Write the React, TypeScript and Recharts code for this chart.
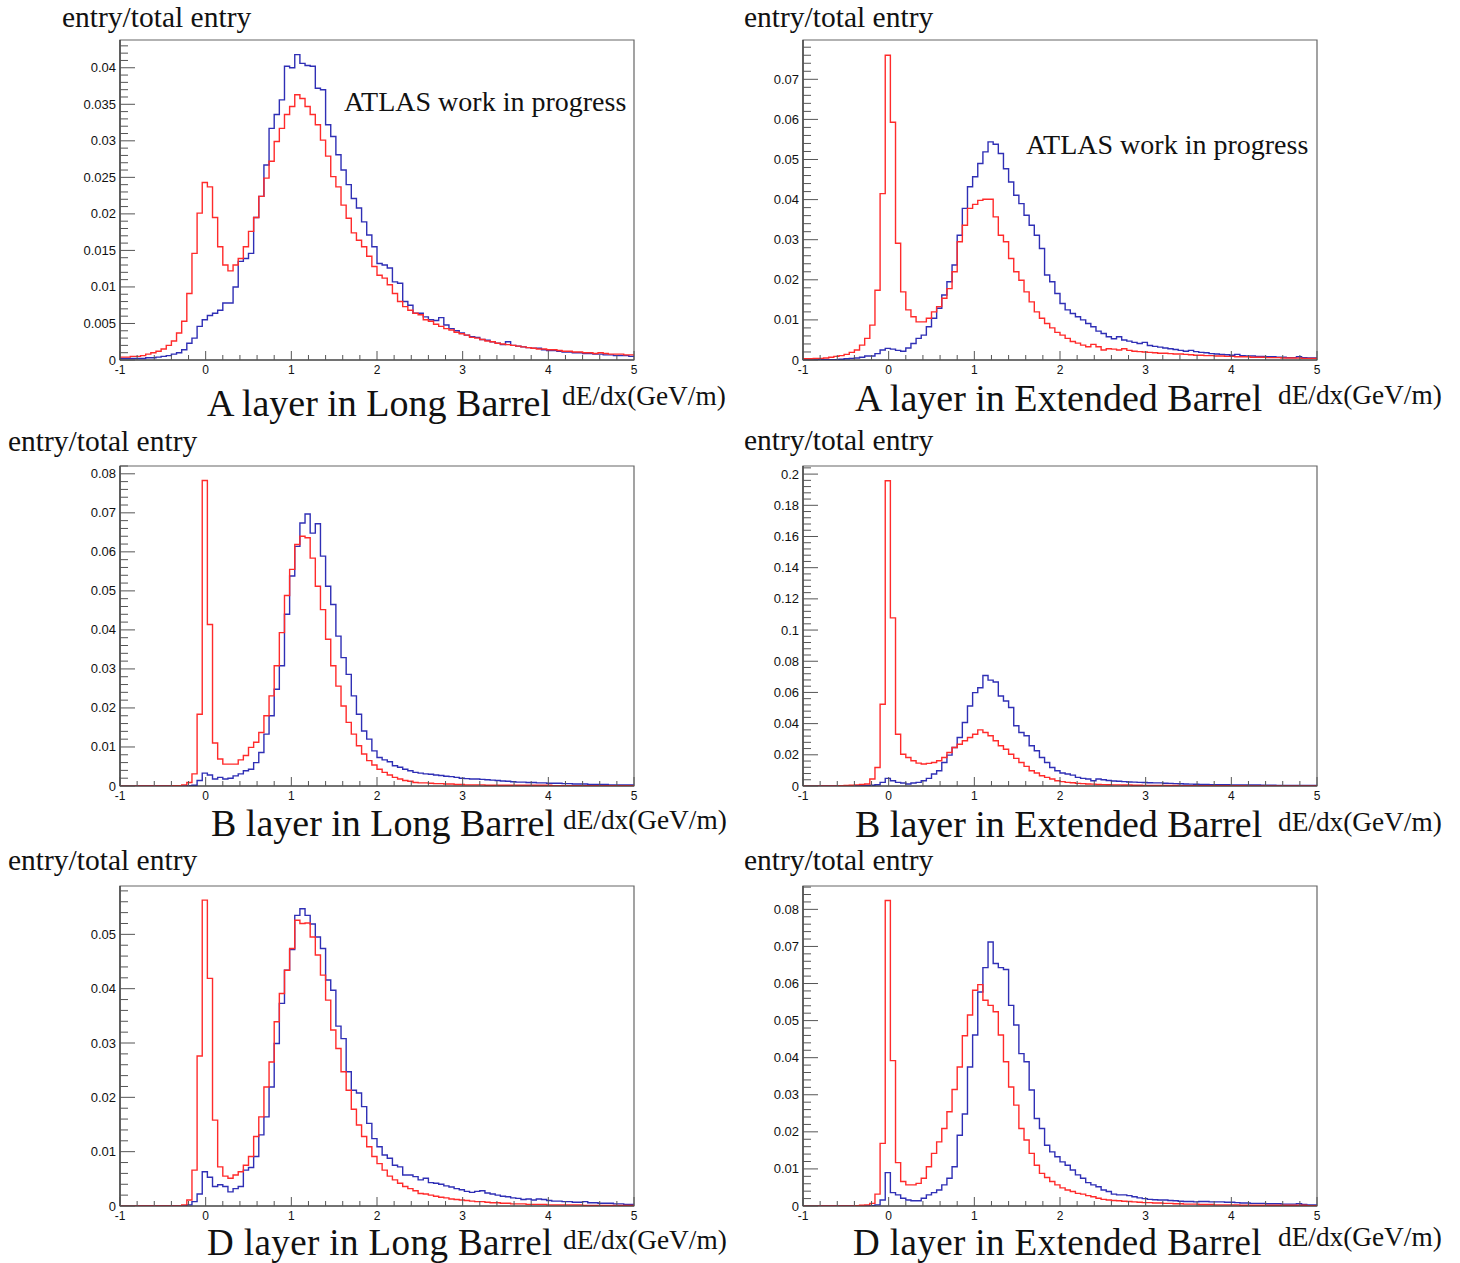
import React from 'react';
import { LineChart, Line, XAxis, YAxis, ReferenceArea } from 'recharts';

// histogram binning: 100 bins from -1 to 5 (width 0.06)
const BIN_LO = -1;
const BIN_HI = 5;
const BIN_W = 0.06;

const X_MAJOR = [-1, 0, 1, 2, 3, 4, 5];
const X_MINOR_STEP = 0.2;

// A layer, Long Barrel
const aLongRed = [
  0.0004, 0.0004, 0.0005, 0.0005, 0.0006, 0.0008, 0.0010, 0.0012, 0.0015, 0.0020, 0.0026, 0.0037,
  0.0053, 0.0091, 0.0146, 0.0201, 0.0243, 0.0237, 0.0195, 0.0155, 0.0130, 0.0122, 0.0130, 0.0139,
  0.0155, 0.0176, 0.0195, 0.0224, 0.0249, 0.0272, 0.0299, 0.0317, 0.0336, 0.0347, 0.0363, 0.0358,
  0.0347, 0.0336, 0.0322, 0.0301, 0.0279, 0.0251, 0.0237, 0.0212, 0.0194, 0.0174, 0.0164, 0.0155,
  0.0142, 0.0128, 0.0116, 0.0112, 0.0103, 0.0091, 0.0080, 0.0073, 0.0068, 0.0064, 0.0062, 0.0055,
  0.0053, 0.0049, 0.0046, 0.0043, 0.0041, 0.0038, 0.0036, 0.0034, 0.0031, 0.0030, 0.0028, 0.0026,
  0.0025, 0.0023, 0.0022, 0.0021, 0.0020, 0.0019, 0.0018, 0.0017, 0.0016, 0.0015, 0.0015, 0.0014,
  0.0014, 0.0013, 0.0012, 0.0012, 0.0011, 0.0011, 0.0010, 0.0010, 0.0009, 0.0010, 0.0009, 0.0008,
  0.0008, 0.0008, 0.0007, 0.0007,
];
const aLongBlue = [
  0.0002, 0.0002, 0.0002, 0.0002, 0.0002, 0.0003, 0.0003, 0.0004, 0.0005, 0.0006, 0.0008, 0.0010,
  0.0014, 0.0023, 0.0030, 0.0046, 0.0055, 0.0061, 0.0064, 0.0068, 0.0078, 0.0078, 0.0100, 0.0135,
  0.0139, 0.0146, 0.0195, 0.0224, 0.0267, 0.0317, 0.0336, 0.0356, 0.0402, 0.0400, 0.0418, 0.0406,
  0.0403, 0.0402, 0.0372, 0.0370, 0.0322, 0.0306, 0.0281, 0.0260, 0.0240, 0.0221, 0.0208, 0.0189,
  0.0171, 0.0155, 0.0132, 0.0130, 0.0126, 0.0107, 0.0105, 0.0080, 0.0075, 0.0064, 0.0064, 0.0059,
  0.0055, 0.0054, 0.0058, 0.0048, 0.0043, 0.0040, 0.0037, 0.0034, 0.0032, 0.0031, 0.0028, 0.0027,
  0.0025, 0.0023, 0.0021, 0.0025, 0.0020, 0.0019, 0.0018, 0.0017, 0.0016, 0.0016, 0.0014, 0.0013,
  0.0013, 0.0012, 0.0011, 0.0011, 0.0010, 0.0010, 0.0009, 0.0009, 0.0008, 0.0008, 0.0007, 0.0007,
  0.0006, 0.0006, 0.0006, 0.0005,
];
const aLongYTicks = [0, 0.005, 0.01, 0.015, 0.02, 0.025, 0.03, 0.035, 0.04];

// A layer, Extended Barrel
const aExtRed = [
  0.0003, 0.0003, 0.0004, 0.0004, 0.0005, 0.0007, 0.0009, 0.0011, 0.0014, 0.0019, 0.0025, 0.0037,
  0.0054, 0.0087, 0.0174, 0.0415, 0.0760, 0.0593, 0.0291, 0.0170, 0.0125, 0.0108, 0.0095, 0.0095,
  0.0104, 0.0120, 0.0133, 0.0154, 0.0178, 0.0220, 0.0295, 0.0336, 0.0378, 0.0388, 0.0398, 0.0401,
  0.0401, 0.0357, 0.0311, 0.0295, 0.0253, 0.0220, 0.0199, 0.0170, 0.0145, 0.0120, 0.0104, 0.0091,
  0.0080, 0.0069, 0.0062, 0.0054, 0.0046, 0.0042, 0.0037, 0.0033, 0.0039, 0.0033, 0.0025, 0.0028,
  0.0027, 0.0025, 0.0028, 0.0024, 0.0022, 0.0021, 0.0020, 0.0019, 0.0018, 0.0017, 0.0017, 0.0016,
  0.0015, 0.0015, 0.0014, 0.0013, 0.0012, 0.0012, 0.0011, 0.0011, 0.0010, 0.0010, 0.0009, 0.0009,
  0.0008, 0.0008, 0.0008, 0.0007, 0.0007, 0.0007, 0.0006, 0.0006, 0.0006, 0.0005, 0.0005, 0.0005,
  0.0005, 0.0004, 0.0004, 0.0004,
];
const aExtBlue = [
  0.0001, 0.0001, 0.0001, 0.0001, 0.0001, 0.0001, 0.0001, 0.0002, 0.0003, 0.0004, 0.0005, 0.0007,
  0.0010, 0.0010, 0.0016, 0.0025, 0.0029, 0.0027, 0.0024, 0.0022, 0.0030, 0.0041, 0.0054, 0.0062,
  0.0083, 0.0104, 0.0129, 0.0162, 0.0195, 0.0237, 0.0311, 0.0378, 0.0432, 0.0457, 0.0490, 0.0519,
  0.0544, 0.0538, 0.0515, 0.0477, 0.0444, 0.0411, 0.0390, 0.0361, 0.0336, 0.0311, 0.0278, 0.0212,
  0.0195, 0.0166, 0.0141, 0.0125, 0.0116, 0.0108, 0.0100, 0.0091, 0.0083, 0.0072, 0.0066, 0.0058,
  0.0053, 0.0058, 0.0050, 0.0047, 0.0044, 0.0041, 0.0044, 0.0036, 0.0034, 0.0032, 0.0030, 0.0028,
  0.0026, 0.0024, 0.0022, 0.0024, 0.0021, 0.0019, 0.0018, 0.0016, 0.0015, 0.0014, 0.0013, 0.0012,
  0.0014, 0.0011, 0.0010, 0.0010, 0.0009, 0.0009, 0.0008, 0.0008, 0.0007, 0.0007, 0.0006, 0.0006,
  0.0008, 0.0006, 0.0005, 0.0005,
];
const aExtYTicks = [0, 0.01, 0.02, 0.03, 0.04, 0.05, 0.06, 0.07];

// B layer, Long Barrel
const bLongRed = [
  0, 0, 0, 0, 0, 0, 0, 0, 0, 0, 0.0001, 0.0001,
  0.0003, 0.0009, 0.0031, 0.0184, 0.0783, 0.0414, 0.0110, 0.0069, 0.0056, 0.0056, 0.0056, 0.0067,
  0.0078, 0.0099, 0.0112, 0.0137, 0.0180, 0.0231, 0.0308, 0.0393, 0.0488, 0.0555, 0.0619, 0.0640,
  0.0636, 0.0584, 0.0512, 0.0452, 0.0376, 0.0308, 0.0256, 0.0205, 0.0163, 0.0133, 0.0103, 0.0082,
  0.0065, 0.0054, 0.0043, 0.0035, 0.0028, 0.0022, 0.0018, 0.0014, 0.0012, 0.0009, 0.0008, 0.0008,
  0.0007, 0.0006, 0.0006, 0.0005, 0.0005, 0.0004, 0.0004, 0.0003, 0.0003, 0.0003, 0.0003, 0.0002,
  0.0002, 0.0002, 0.0002, 0.0002, 0.0002, 0.0002, 0.0002, 0.0002, 0.0002, 0.0002, 0.0002, 0.0002,
  0.0001, 0.0001, 0.0001, 0.0001, 0.0001, 0.0001, 0.0001, 0.0001, 0.0001, 0.0001, 0.0001, 0.0001,
  0.0001, 0.0001, 0.0001, 0.0001,
];
const bLongBlue = [
  0, 0, 0, 0, 0, 0, 0, 0, 0, 0, 0, 0,
  0, 0.0001, 0.0002, 0.0014, 0.0033, 0.0028, 0.0018, 0.0022, 0.0018, 0.0020, 0.0026, 0.0031,
  0.0039, 0.0043, 0.0060, 0.0086, 0.0133, 0.0180, 0.0248, 0.0308, 0.0440, 0.0538, 0.0614, 0.0674,
  0.0697, 0.0648, 0.0672, 0.0589, 0.0512, 0.0465, 0.0384, 0.0329, 0.0286, 0.0231, 0.0184, 0.0141,
  0.0120, 0.0090, 0.0073, 0.0067, 0.0062, 0.0052, 0.0048, 0.0043, 0.0039, 0.0035, 0.0033, 0.0031,
  0.0030, 0.0028, 0.0027, 0.0025, 0.0024, 0.0022, 0.0020, 0.0019, 0.0018, 0.0018, 0.0017, 0.0016,
  0.0015, 0.0014, 0.0013, 0.0012, 0.0011, 0.0010, 0.0010, 0.0009, 0.0009, 0.0008, 0.0008, 0.0007,
  0.0007, 0.0007, 0.0006, 0.0006, 0.0005, 0.0005, 0.0005, 0.0004, 0.0004, 0.0004, 0.0004, 0.0003,
  0.0003, 0.0003, 0.0003, 0.0003,
];
const bLongYTicks = [0, 0.01, 0.02, 0.03, 0.04, 0.05, 0.06, 0.07, 0.08];

// B layer, Extended Barrel
const bExtRed = [
  0, 0, 0, 0, 0, 0, 0.0001, 0.0002, 0.0003, 0.0005, 0.0007, 0.0010,
  0.0013, 0.0045, 0.0119, 0.0524, 0.1957, 0.1078, 0.0332, 0.0204, 0.0183, 0.0162, 0.0147, 0.0141,
  0.0145, 0.0151, 0.0162, 0.0183, 0.0215, 0.0247, 0.0268, 0.0290, 0.0311, 0.0332, 0.0360, 0.0343,
  0.0322, 0.0290, 0.0258, 0.0236, 0.0204, 0.0177, 0.0151, 0.0126, 0.0098, 0.0083, 0.0066, 0.0055,
  0.0045, 0.0034, 0.0028, 0.0023, 0.0021, 0.0017, 0.0015, 0.0013, 0.0012, 0.0010, 0.0009, 0.0008,
  0.0007, 0.0007, 0.0006, 0.0006, 0.0005, 0.0005, 0.0004, 0.0004, 0.0004, 0.0003, 0.0003, 0.0003,
  0.0003, 0.0002, 0.0002, 0.0002, 0.0002, 0.0002, 0.0002, 0.0002, 0.0002, 0.0002, 0.0002, 0.0002,
  0.0002, 0.0002, 0.0001, 0.0001, 0.0001, 0.0001, 0.0001, 0.0001, 0.0001, 0.0001, 0.0001, 0.0001,
  0.0001, 0.0001, 0.0001, 0.0001,
];
const bExtBlue = [
  0, 0, 0, 0, 0, 0, 0, 0.0001, 0.0001, 0.0002, 0.0002, 0.0003,
  0.0004, 0.0005, 0.0008, 0.0023, 0.0049, 0.0034, 0.0023, 0.0019, 0.0013, 0.0019, 0.0023, 0.0034,
  0.0049, 0.0077, 0.0098, 0.0151, 0.0198, 0.0247, 0.0311, 0.0407, 0.0513, 0.0599, 0.0630, 0.0709,
  0.0679, 0.0667, 0.0577, 0.0545, 0.0503, 0.0386, 0.0343, 0.0322, 0.0258, 0.0226, 0.0183, 0.0151,
  0.0119, 0.0098, 0.0083, 0.0077, 0.0070, 0.0055, 0.0049, 0.0045, 0.0034, 0.0045, 0.0040, 0.0035,
  0.0032, 0.0030, 0.0028, 0.0026, 0.0025, 0.0023, 0.0022, 0.0021, 0.0020, 0.0020, 0.0018, 0.0017,
  0.0015, 0.0014, 0.0013, 0.0012, 0.0011, 0.0010, 0.0010, 0.0009, 0.0009, 0.0008, 0.0008, 0.0007,
  0.0007, 0.0007, 0.0006, 0.0006, 0.0006, 0.0005, 0.0005, 0.0005, 0.0004, 0.0004, 0.0004, 0.0004,
  0.0003, 0.0003, 0.0003, 0.0003,
];
const bExtYTicks = [0, 0.02, 0.04, 0.06, 0.08, 0.1, 0.12, 0.14, 0.16, 0.18, 0.2];

// D layer, Long Barrel
const dLongRed = [
  0, 0, 0, 0, 0, 0, 0, 0, 0, 0, 0, 0,
  0.0002, 0.0011, 0.0066, 0.0276, 0.0563, 0.0419, 0.0158, 0.0072, 0.0055, 0.0051, 0.0057, 0.0063,
  0.0075, 0.0091, 0.0128, 0.0164, 0.0219, 0.0265, 0.0339, 0.0391, 0.0434, 0.0474, 0.0526, 0.0520,
  0.0521, 0.0495, 0.0462, 0.0425, 0.0379, 0.0324, 0.0290, 0.0247, 0.0213, 0.0178, 0.0149, 0.0128,
  0.0109, 0.0091, 0.0078, 0.0066, 0.0055, 0.0048, 0.0042, 0.0036, 0.0032, 0.0028, 0.0023, 0.0022,
  0.0020, 0.0018, 0.0016, 0.0015, 0.0013, 0.0012, 0.0011, 0.0010, 0.0009, 0.0008, 0.0008, 0.0007,
  0.0006, 0.0006, 0.0005, 0.0005, 0.0004, 0.0004, 0.0004, 0.0003, 0.0003, 0.0003, 0.0003, 0.0002,
  0.0002, 0.0002, 0.0002, 0.0002, 0.0002, 0.0002, 0.0001, 0.0001, 0.0001, 0.0001, 0.0001, 0.0001,
  0.0001, 0.0001, 0.0001, 0.0001,
];
const dLongBlue = [
  0, 0, 0, 0, 0, 0, 0, 0, 0, 0, 0, 0,
  0, 0.0002, 0.0008, 0.0022, 0.0063, 0.0053, 0.0036, 0.0039, 0.0036, 0.0026, 0.0032, 0.0036,
  0.0066, 0.0071, 0.0091, 0.0131, 0.0164, 0.0219, 0.0299, 0.0373, 0.0434, 0.0472, 0.0535, 0.0547,
  0.0535, 0.0519, 0.0495, 0.0474, 0.0416, 0.0397, 0.0331, 0.0308, 0.0247, 0.0213, 0.0208, 0.0183,
  0.0152, 0.0124, 0.0109, 0.0094, 0.0088, 0.0075, 0.0072, 0.0057, 0.0057, 0.0054, 0.0048, 0.0051,
  0.0043, 0.0042, 0.0040, 0.0037, 0.0035, 0.0032, 0.0030, 0.0027, 0.0025, 0.0027, 0.0028, 0.0024,
  0.0022, 0.0020, 0.0018, 0.0017, 0.0015, 0.0014, 0.0012, 0.0013, 0.0011, 0.0013, 0.0012, 0.0010,
  0.0009, 0.0009, 0.0008, 0.0008, 0.0007, 0.0007, 0.0008, 0.0006, 0.0006, 0.0005, 0.0005, 0.0005,
  0.0004, 0.0004, 0.0003, 0.0003,
];
const dLongYTicks = [0, 0.01, 0.02, 0.03, 0.04, 0.05];

// D layer, Extended Barrel
const dExtRed = [
  0, 0, 0, 0, 0, 0, 0, 0, 0, 0, 0.0001, 0.0002,
  0.0003, 0.0007, 0.0032, 0.0169, 0.0824, 0.0392, 0.0117, 0.0066, 0.0057, 0.0057, 0.0061, 0.0075,
  0.0106, 0.0142, 0.0173, 0.0209, 0.0254, 0.0314, 0.0375, 0.0459, 0.0515, 0.0582, 0.0597, 0.0555,
  0.0541, 0.0524, 0.0461, 0.0389, 0.0321, 0.0272, 0.0209, 0.0178, 0.0142, 0.0110, 0.0088, 0.0077,
  0.0066, 0.0057, 0.0049, 0.0043, 0.0039, 0.0034, 0.0032, 0.0028, 0.0025, 0.0021, 0.0018, 0.0016,
  0.0015, 0.0014, 0.0013, 0.0012, 0.0011, 0.0010, 0.0009, 0.0009, 0.0008, 0.0008, 0.0007, 0.0007,
  0.0006, 0.0006, 0.0005, 0.0005, 0.0005, 0.0004, 0.0004, 0.0004, 0.0003, 0.0003, 0.0003, 0.0003,
  0.0003, 0.0002, 0.0002, 0.0002, 0.0002, 0.0002, 0.0002, 0.0002, 0.0002, 0.0002, 0.0002, 0.0002,
  0.0002, 0.0002, 0.0001, 0.0001,
];
const dExtBlue = [
  0, 0, 0, 0, 0, 0, 0, 0, 0, 0, 0, 0,
  0, 0.0001, 0.0003, 0.0016, 0.0090, 0.0036, 0.0030, 0.0021, 0.0016, 0.0014, 0.0014, 0.0021,
  0.0030, 0.0036, 0.0043, 0.0057, 0.0075, 0.0106, 0.0191, 0.0248, 0.0375, 0.0461, 0.0577, 0.0643,
  0.0712, 0.0654, 0.0643, 0.0638, 0.0541, 0.0488, 0.0411, 0.0389, 0.0313, 0.0236, 0.0209, 0.0164,
  0.0146, 0.0133, 0.0119, 0.0110, 0.0097, 0.0084, 0.0075, 0.0063, 0.0057, 0.0052, 0.0043, 0.0039,
  0.0032, 0.0030, 0.0030, 0.0028, 0.0025, 0.0022, 0.0020, 0.0018, 0.0017, 0.0016, 0.0016, 0.0015,
  0.0014, 0.0013, 0.0012, 0.0012, 0.0011, 0.0012, 0.0012, 0.0011, 0.0011, 0.0011, 0.0010, 0.0010,
  0.0009, 0.0008, 0.0008, 0.0007, 0.0007, 0.0007, 0.0006, 0.0006, 0.0006, 0.0005, 0.0005, 0.0005,
  0.0006, 0.0004, 0.0003, 0.0003,
];
const dExtYTicks = [0, 0.01, 0.02, 0.03, 0.04, 0.05, 0.06, 0.07, 0.08];

const TITLES = [
  'A layer in Long Barrel', 'A layer in Extended Barrel',
  'B layer in Long Barrel', 'B layer in Extended Barrel',
  'D layer in Long Barrel', 'D layer in Extended Barrel',
];
const Y_TITLE = 'entry/total entry';
const X_TITLE = 'dE/dx(GeV/m)';
const WATERMARK = 'ATLAS work in progress';

const RED = '#ff2b2b';
const BLUE = '#2f2fb5';
const FRAME_W = 514;
const FRAME_H = 320;
const PAD_L = 70;
const PAD_T = 10;
const PAD_R = 12;
const PAD_B = 30;
const SERIF = '"Liberation Serif", "Times New Roman", serif';
const SANS = '"Liberation Sans", Arial, sans-serif';

// layout of each pad on the page (frame corner + text anchors)
const PANELS = [
  { red: aLongRed, blue: aLongBlue, yMajor: aLongYTicks, yMax: 0.0438, yMinor: 0.001,
    left: 120, top: 40, title: [207, 416, 38, 0], unit: [562, 405], ylab: [62, 27], atlas: [344, 111] },
  { red: aExtRed, blue: aExtBlue, yMajor: aExtYTicks, yMax: 0.0798, yMinor: 0.002,
    left: 803, top: 40, title: [855, 411, 38, 0], unit: [1278, 404], ylab: [744, 27], atlas: [1026, 154] },
  { red: bLongRed, blue: bLongBlue, yMajor: bLongYTicks, yMax: 0.0820, yMinor: 0.002,
    left: 120, top: 466, title: [211, 836, 38, 0], unit: [563, 829], ylab: [8, 451] },
  { red: bExtRed, blue: bExtBlue, yMajor: bExtYTicks, yMax: 0.2052, yMinor: 0.004,
    left: 803, top: 466, title: [855, 837, 38, 0], unit: [1278, 831], ylab: [744, 450] },
  { red: dLongRed, blue: dLongBlue, yMajor: dLongYTicks, yMax: 0.0589, yMinor: 0.002,
    left: 120, top: 886, title: [207, 1255, 37, 0.4], unit: [563, 1249], ylab: [8, 870] },
  { red: dExtRed, blue: dExtBlue, yMajor: dExtYTicks, yMax: 0.0863, yMinor: 0.002,
    left: 803, top: 886, title: [853, 1255, 37, 0.4], unit: [1278, 1246], ylab: [744, 870] },
];

function histRows(red: number[], blue: number[]) {
  const rows = red.map((r, i) => ({ x: +(BIN_LO + i * BIN_W).toFixed(2), red: r, blue: blue[i] }));
  rows.push({ x: BIN_HI, red: red[red.length - 1], blue: blue[blue.length - 1] });
  return rows;
}

function steps(from: number, to: number, step: number) {
  const out: number[] = [];
  const n = Math.floor((to - from) / step + 1e-6);
  for (let i = 0; i <= n; i++) out.push(+(from + i * step).toFixed(5));
  return out;
}

const isIn = (list: number[], v: number) => list.some(m => Math.abs(m - v) < 1e-7);
const fmt = (v: number) => String(+v.toFixed(4));

const X_TICKS = steps(BIN_LO, BIN_HI, X_MINOR_STEP);

// ROOT-style ticks: drawn inward from the axis
function XTick(props: any) {
  const { x, y, payload } = props;
  const major = isIn(X_MAJOR, payload.value);
  return (
    <g>
      <line x1={x} y1={y} x2={x} y2={y - (major ? 9 : 5)} stroke="#555" strokeWidth={1} />
      {major && (
        <text x={x} y={y + 13.5} textAnchor="middle" fontSize={12} fontFamily={SANS} fill="#111">
          {fmt(payload.value)}
        </text>
      )}
    </g>
  );
}

function YTick(props: any) {
  const { x, y, payload, majors } = props;
  const major = isIn(majors, payload.value);
  return (
    <g>
      <line x1={x} y1={y} x2={x + (major ? 15 : 8)} y2={y} stroke="#555" strokeWidth={1} />
      {major && (
        <text x={x - 4} y={y + 4.5} textAnchor="end" fontSize={13} fontFamily={SANS} fill="#111">
          {fmt(payload.value)}
        </text>
      )}
    </g>
  );
}

function Pad({ p }: { p: typeof PANELS[number] }) {
  const data = histRows(p.red, p.blue);
  const yTicks = steps(0, p.yMax, p.yMinor);
  return (
    <div style={{ position: 'absolute', left: p.left - PAD_L, top: p.top - PAD_T }}>
      <LineChart
        width={PAD_L + FRAME_W + PAD_R}
        height={PAD_T + FRAME_H + PAD_B}
        data={data}
        margin={{ top: PAD_T, right: PAD_R, left: 0, bottom: 0 }}
      >
        <XAxis
          dataKey="x" type="number" domain={[BIN_LO, BIN_HI]} ticks={X_TICKS} interval={0}
          height={PAD_B} tickSize={0} tickMargin={0} tickLine={false}
          axisLine={{ stroke: '#333', strokeWidth: 1.2 }}
          tick={(t: any) => <XTick {...t} />} allowDataOverflow
        />
        <YAxis
          type="number" domain={[0, p.yMax]} ticks={yTicks} interval={0}
          width={PAD_L} tickSize={0} tickMargin={0} tickLine={false}
          axisLine={{ stroke: '#333', strokeWidth: 1.2 }}
          tick={(t: any) => <YTick {...t} majors={p.yMajor} />} allowDataOverflow
        />
        <ReferenceArea x1={BIN_LO} x2={BIN_HI} y1={0} y2={p.yMax} fill="none" stroke="#666" strokeWidth={1.2} />
        <Line dataKey="blue" type="stepAfter" stroke={BLUE} strokeWidth={1.4} dot={false} isAnimationActive={false} />
        <Line dataKey="red" type="stepAfter" stroke={RED} strokeWidth={1.4} dot={false} isAnimationActive={false} />
      </LineChart>
    </div>
  );
}

export default function App() {
  return (
    <div style={{ position: 'absolute', left: 0, top: 0, width: 1460, height: 1263, background: '#fff' }}>
      {PANELS.map((p, i) => <Pad key={i} p={p} />)}
      <svg width={1460} height={1263} style={{ position: 'absolute', left: 0, top: 0, pointerEvents: 'none' }}>
        {PANELS.map((p, i) => (
          <g key={i} fill="#111" fontFamily={SERIF}>
            <text x={p.ylab[0]} y={p.ylab[1]} fontSize={29.5}>{Y_TITLE}</text>
            <text x={p.title[0]} y={p.title[1]} fontSize={p.title[2]} letterSpacing={p.title[3]}>{TITLES[i]}</text>
            <text x={p.unit[0]} y={p.unit[1]} fontSize={27.3}>{X_TITLE}</text>
            {p.atlas && <text x={p.atlas[0]} y={p.atlas[1]} fontSize={28}>{WATERMARK}</text>}
          </g>
        ))}
      </svg>
    </div>
  );
}
